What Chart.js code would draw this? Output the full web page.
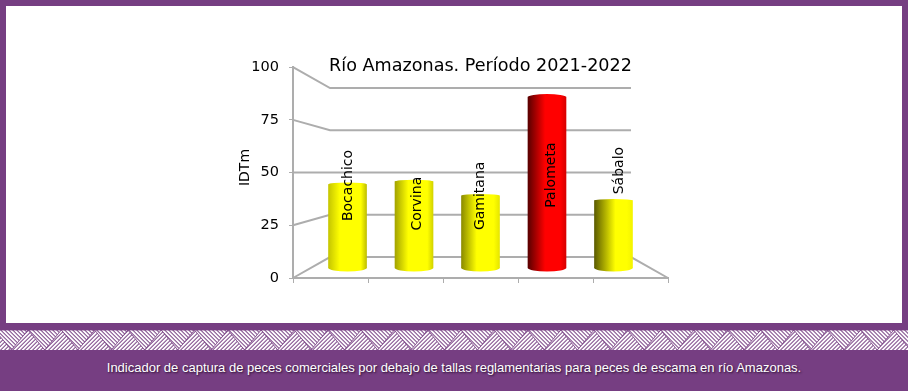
<!DOCTYPE html>
<html lang="es">
<head>
<meta charset="utf-8">
<title>Río Amazonas</title>
<script src="https://cdn.jsdelivr.net/npm/chart.js@4"></script>
<style>
  html, body { margin: 0; padding: 0; background: #763e82; }
  body { position: relative; width: 908px; height: 391px; overflow: hidden; }
  #panel { position: absolute; left: 6px; top: 6px; width: 896px; height: 317px; background: #fff; }
  #weave { position: absolute; left: 0; top: 330px; display: block; }
  #caption {
    position: absolute; left: 0; top: 360px; width: 908px; text-align: center;
    font: 13px/16px "Liberation Sans", Arial, sans-serif; color: #fff;
    text-shadow: 1px 1px 2px #2a1030;
  }
</style>
</head>
<body>
<div id="panel"><canvas id="chart" width="896" height="317"></canvas></div>
<svg id="weave" width="908" height="20" xmlns="http://www.w3.org/2000/svg">
  <defs>
    <pattern id="down" width="2.828" height="2.828" patternUnits="userSpaceOnUse" patternTransform="rotate(-45)">
      <rect width="2.828" height="2.828" fill="#fff"/><rect width="1" height="2.828" fill="#763e82"/>
    </pattern>
    <pattern id="up" width="2.828" height="2.828" patternUnits="userSpaceOnUse" patternTransform="rotate(45)">
      <rect width="2.828" height="2.828" fill="#fff"/><rect width="1" height="2.828" fill="#763e82"/>
    </pattern>
  </defs>
  <rect width="908" height="20" fill="url(#up)"/>
  <path id="weaveDown" fill="url(#down)" stroke="#763e82" stroke-width="0.8"/>
</svg>
<div id="caption">Indicador de captura de peces comerciales por debajo de tallas reglamentarias para peces de escama en río Amazonas.</div>

<script>
const categories = ["Bocachico", "Corvina", "Gamitana", "Palometa", "Sábalo"];
const idtm = [44, 45.5, 38, 90, 35.5];
const yTicks = [0, 25, 50, 75, 100];
const chartTitle = "Río Amazonas. Período 2021-2022";
const yTitle = "IDTm";

const GRID = "#adadad";
const FONT = '"DejaVu Sans", Verdana, sans-serif';

// shading of each cylinder, the light moves across the chart
const barMain = ["#ffff00", "#ffff00", "#ffff00", "#ff0000", "#ffff00"];
const barLeft = ["#c6c600", "#a4a400", "#8c8c00", "#5a0000", "#5c5c00"];
const barRight = ["#c0c000", "#d4d400", "#e6e600", "#d80000", "#f4f400"];
const barPeak = [0.3, 0.35, 0.4, 0.45, 0.55];
// where the rotated label centre sits from the bar top and bar middle, px
const labelShift = [1, 22, 0, 78, -30];
const labelDrift = [0, 2.5, -1, 3.5, 5];

// decorative band under the panel
let weave = "";
for (let x = -5.3; x < 908; x += 33.3) {
  weave += `M${x} 0L${x + 16.65} 20L${x + 33.3} 0Z`;
}
document.getElementById("weaveDown").setAttribute("d", weave);

function cylinderFill(ctx, left, right, i) {
  const g = ctx.createLinearGradient(left, 0, right, 0);
  g.addColorStop(0, barLeft[i]);
  g.addColorStop(barPeak[i], barMain[i]);
  g.addColorStop(0.85, barMain[i]);
  g.addColorStop(1, barRight[i]);
  return g;
}

function rotatedText(ctx, text, x, y, font) {
  ctx.save();
  ctx.translate(x, y);
  ctx.rotate(-Math.PI / 2);
  ctx.font = font;
  ctx.fillStyle = "#000";
  ctx.textAlign = "center";
  ctx.textBaseline = "middle";
  ctx.fillText(text, 0, 0);
  ctx.restore();
}

// back wall, side wall and floor of the fake 3D box
const wallPlugin = {
  id: "walls",
  beforeDatasetsDraw(chart) {
    const { ctx, scales, chartArea } = chart;
    const backLeft = scales.xBack.getPixelForValue(0);
    const backRight = scales.xBack.getPixelForValue(1);
    ctx.save();
    ctx.strokeStyle = GRID;
    ctx.lineWidth = 2;
    yTicks.forEach((t) => {
      ctx.beginPath();
      ctx.moveTo(chartArea.left, scales.y.getPixelForValue(t));
      ctx.lineTo(backLeft, scales.yBack.getPixelForValue(t));
      ctx.lineTo(backRight, scales.yBack.getPixelForValue(t));
      if (t === 0) ctx.lineTo(chartArea.right, scales.y.getPixelForValue(0));
      ctx.stroke();
    });
    ctx.restore();
  }
};

// round ends of the cylinders plus the labels that sit on them
const cylinderPlugin = {
  id: "cylinders",
  afterDatasetsDraw(chart) {
    const { ctx } = chart;
    chart.getDatasetMeta(0).data.forEach((bar, i) => {
      const left = bar.x - bar.width / 2;
      const right = bar.x + bar.width / 2;
      const fill = cylinderFill(ctx, left, right, i);
      ctx.save();
      ctx.fillStyle = fill;
      ctx.beginPath();
      ctx.ellipse(bar.x, bar.base, bar.width / 2, 3.5, 0, 0, Math.PI * 2);
      ctx.fill();
      ctx.fillStyle = fill;
      ctx.beginPath();
      ctx.ellipse(bar.x, bar.y, bar.width / 2, 0.8 + idtm[i] * 0.025, 0, 0, Math.PI * 2);
      ctx.fill();
      ctx.restore();
      rotatedText(ctx, categories[i], bar.x + 0.5 + labelDrift[i], bar.y + labelShift[i], "14px " + FONT);
    });
    rotatedText(ctx, yTitle, 239, 161.5, "14px " + FONT);
  }
};

new Chart(document.getElementById("chart"), {
  type: "bar",
  data: {
    labels: categories,
    datasets: [{
      data: categories.map((c, i) => ({ x: i, y: idtm[i] })),
      xAxisID: "xBars",
      yAxisID: "yBars",
      barThickness: 38,
      borderWidth: 0,
      backgroundColor(c) {
        const area = c.chart.chartArea;
        if (!area || !c.element) return barMain[c.dataIndex];
        const mid = c.chart.scales.xBars.getPixelForValue(c.dataIndex);
        return cylinderFill(c.chart.ctx, mid - 19, mid + 19, c.dataIndex);
      }
    }]
  },
  plugins: [wallPlugin, cylinderPlugin],
  options: {
    responsive: false,
    animation: false,
    layout: { padding: { left: 230, right: 234, top: 50, bottom: 0 } },
    plugins: {
      legend: { display: false },
      tooltip: { enabled: false },
      title: {
        display: true,
        text: chartTitle,
        fullSize: false,
        color: "#000",
        font: { family: FONT, size: 17.6, weight: "normal", lineHeight: 1.2 },
        padding: { top: 0, bottom: -10 }
      }
    },
    scales: {
      x: {
        type: "category",
        labels: categories,
        offset: true,
        afterFit(s) { s.height = 45; },
        border: { color: GRID, width: 2 },
        grid: { offset: true, drawOnChartArea: false, color: GRID, tickLength: 5, tickWidth: 1 },
        ticks: { display: false }
      },
      y: {
        min: 0,
        max: 100,
        afterFit(s) { s.width = 57; },
        afterBuildTicks(s) { s.ticks = yTicks.map((value) => ({ value })); },
        border: { color: GRID, width: 2 },
        grid: { drawOnChartArea: false, color: GRID, tickLength: 4, tickWidth: 1 },
        ticks: { color: "#000", padding: 10, font: { family: FONT, size: 14.5 } }
      },
      // cylinders stand halfway into the box, so they get their own projected scales
      xBars: { type: "linear", display: false, offset: false, position: "bottom", min: -0.82, max: 4.82 },
      yBars: { type: "linear", display: false, position: "left", min: -5.26, max: 105.8 },
      // back wall of the box
      xBack: { type: "linear", display: false, offset: false, position: "bottom", min: -0.123, max: 1.123 },
      yBack: { type: "linear", display: false, position: "left", min: -12.4, max: 112.4 }
    }
  }
});
</script>
</body>
</html>
